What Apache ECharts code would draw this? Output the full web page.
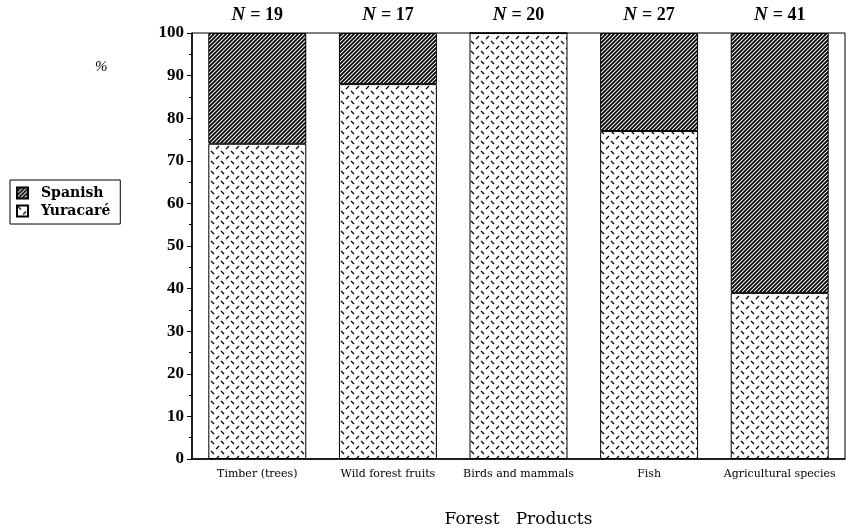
<!DOCTYPE html>
<html lang="en">
<head>
    <meta charset="UTF-8">
    <title>Forest Products</title>
    <script src="https://cdn.jsdelivr.net/npm/echarts@6/dist/echarts.min.js"></script>
    <style>
        html, body { margin: 0; padding: 0; background: #fff; }
        #main { width: 851px; height: 528px; }
    </style>
</head>
<body>
    <div id="main"></div>
    <script>
        // data
        var categories = ['Timber (trees)', 'Wild forest fruits', 'Birds and mammals', 'Fish', 'Agricultural species'];
        var sampleSizes = [19, 17, 20, 27, 41];
        var yuracare = [74, 88, 100, 77, 39];
        var spanish = [26, 12, 0, 23, 61];

        var serif = '"Liberation Serif", "DejaVu Serif", serif';
        var wideSerif = '"DejaVu Serif", serif';

        // dense diagonal hatch for Spanish
        function hatchPattern() {
            var c = document.createElement('canvas');
            c.width = 4; c.height = 4;
            var ctx = c.getContext('2d');
            ctx.fillStyle = '#fff';
            ctx.fillRect(0, 0, 4, 4);
            ctx.strokeStyle = '#000';
            ctx.lineWidth = 1.8;
            ctx.beginPath();
            ctx.moveTo(-1, 5); ctx.lineTo(5, -1);
            ctx.moveTo(-1, 1); ctx.lineTo(1, -1);
            ctx.moveTo(3, 5); ctx.lineTo(5, 3);
            ctx.stroke();
            return c;
        }

        // small dash pattern for Yuracaré
        function dashPattern() {
            var c = document.createElement('canvas');
            c.width = 10; c.height = 10;
            var ctx = c.getContext('2d');
            ctx.fillStyle = '#fff';
            ctx.fillRect(0, 0, 10, 10);
            ctx.strokeStyle = '#000';
            ctx.lineWidth = 1.3;
            ctx.beginPath();
            ctx.moveTo(1, 1); ctx.lineTo(4, 4);
            ctx.moveTo(9, 6); ctx.lineTo(6, 9);
            ctx.stroke();
            return c;
        }

        var chart = echarts.init(document.getElementById('main'));

        var option = {
            animation: false,
            grid: {
                left: 192, right: 6, top: 33, bottom: 69,
                outerBoundsMode: 'none',
                containLabel: false,
                show: true, borderColor: '#000', borderWidth: 1
            },
            legend: {
                orient: 'vertical',
                left: 10, top: 180,
                padding: [6, 10, 6, 6],
                itemGap: 4,
                itemWidth: 11, itemHeight: 11,
                icon: 'rect',
                borderColor: '#000', borderWidth: 1,
                textStyle: { fontFamily: wideSerif, fontWeight: 'bold', fontSize: 14, color: '#000', padding: [0, 0, 0, 8] },
                data: ['Spanish', 'Yuracaré']
            },
            xAxis: [{
                type: 'category',
                data: categories,
                axisLine: { lineStyle: { color: '#000', width: 1.5 } },
                axisTick: { length: 4, lineStyle: { color: '#000' } },
                axisLabel: { fontFamily: wideSerif, fontSize: 11, color: '#000', margin: 10, interval: 0 },
                name: 'Forest   Products',
                nameLocation: 'middle',
                nameGap: 52,
                nameTextStyle: { fontFamily: wideSerif, fontSize: 17, color: '#000' }
            }, {
                type: 'category',
                position: 'top',
                data: sampleSizes,
                axisLine: { show: false },
                axisTick: { show: false },
                axisLabel: {
                    margin: 8,
                    formatter: function (v) { return '{i|N}{b|= ' + v + '}'; },
                    rich: {
                        i: { fontFamily: serif, fontStyle: 'italic', fontWeight: 'bold', fontSize: 19, color: '#000', padding: [0, 5, 0, 0] },
                        b: { fontFamily: serif, fontWeight: 'bold', fontSize: 18, color: '#000' }
                    }
                }
            }],
            yAxis: {
                type: 'value',
                min: 0, max: 100, interval: 10,
                axisLine: { show: true, lineStyle: { color: '#000', width: 1.5 } },
                axisTick: { show: true, length: 5, lineStyle: { color: '#000' } },
                minorTick: { show: true, splitNumber: 2, length: 3, lineStyle: { color: '#000' } },
                splitLine: { show: false },
                axisLabel: { fontFamily: serif, fontWeight: 'bold', fontSize: 17, color: '#000', margin: 8 }
            },
            graphic: [{
                type: 'text',
                left: 95, top: 60,
                style: { text: '%', font: 'italic 15px ' + serif, fill: '#000' }
            }],
            series: [{
                name: 'Yuracaré',
                type: 'bar',
                stack: 'total',
                barWidth: '75%',
                data: yuracare,
                itemStyle: { color: { image: dashPattern(), repeat: 'repeat' }, borderColor: '#000', borderWidth: 1 }
            }, {
                name: 'Spanish',
                type: 'bar',
                stack: 'total',
                barWidth: '75%',
                data: spanish,
                itemStyle: { color: { image: hatchPattern(), repeat: 'repeat' }, borderColor: '#000', borderWidth: 1 }
            }]
        };

        chart.setOption(option);
    </script>
</body>
</html>
